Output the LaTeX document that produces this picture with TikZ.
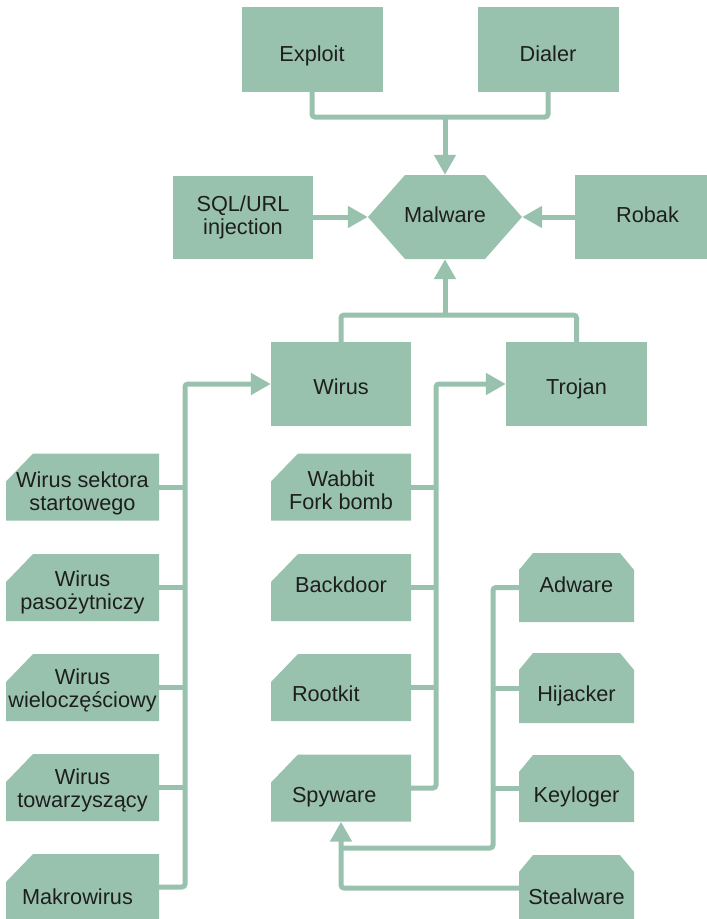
\documentclass[tikz,border=0pt]{standalone}
\usepackage{fontspec}
\setmainfont{Liberation Sans}
\usepackage{tikz}
\usetikzlibrary{arrows.meta}
\definecolor{sagegreen}{RGB}{153, 194, 174}
\definecolor{darktext}{RGB}{30, 30, 30}
\newlength{\textlift}
\tikzset{dropby/.initial=2, lines/.initial=1}

\begin{document}
\begin{tikzpicture}[x=1pt, y=-1pt,
    boxtext/.style = {text=darktext, align=center, inner sep=0pt, font=\fontsize{21.7}{23}\selectfont,
        execute at begin node={\pgfmathsetlength{\textlift}{2*\pgfkeysvalueof{/tikz/dropby}+25.6+23*(\pgfkeysvalueof{/tikz/lines}-1)}\rule[-5pt]{0pt}{\textlift}}},
    plain/.style = {boxtext, fill=sagegreen, minimum width=140pt, minimum height=84pt},
    hexbox/.style = {boxtext, minimum width=154pt, minimum height=84pt,
        path picture={\fill[sagegreen] (path picture bounding box.west)
            -- ([xshift=37pt]path picture bounding box.north west)
            -- ([xshift=-37pt]path picture bounding box.north east)
            -- (path picture bounding box.east)
            -- ([xshift=-37pt]path picture bounding box.south east)
            -- ([xshift=37pt]path picture bounding box.south west) -- cycle;}},
    cutleft/.style = {boxtext, minimum width=153pt, minimum height=67pt,
        path picture={\fill[sagegreen] ([yshift=-28pt]path picture bounding box.north west)
            -- ([xshift=27pt]path picture bounding box.north west)
            -- (path picture bounding box.north east)
            -- (path picture bounding box.south east)
            -- (path picture bounding box.south west) -- cycle;}},
    cutmid/.style = {cutleft, minimum width=140pt},
    cuttwo/.style = {boxtext, minimum width=115pt, minimum height=68pt,
        path picture={\fill[sagegreen] ([yshift=-17pt]path picture bounding box.north west)
            -- ([xshift=14pt]path picture bounding box.north west)
            -- ([xshift=-14pt]path picture bounding box.north east)
            -- ([yshift=-17pt]path picture bounding box.north east)
            -- (path picture bounding box.south east)
            -- (path picture bounding box.south west) -- cycle;}},
    link/.style = {draw=sagegreen, line width=5pt, rounded corners=3pt},
    arrowlink/.style = {link, -{Triangle[length=20pt, width=21pt]}}]
    \useasboundingbox (0,0) rectangle (707,919);

    % top row
    \node[plain, minimum width=141pt, minimum height=85pt, dropby=4] (exploit) at (312, 49.5) {Exploit};
    \node[plain, minimum width=141pt, minimum height=85pt, dropby=4.5] (dialer) at (548, 49.5) {Dialer};
    \node[plain, minimum height=83pt, lines=2, dropby=-2.3] (sql) at (243, 217) {SQL/URL\\injection};
    \node[hexbox, dropby=-3] (malware) at (445, 217) {Malware};
    \node[plain, minimum width=145pt, dropby=-5] (robak) at (647.5, 217) {Robak};
    \node[plain, dropby=2.7] (wirus) at (341, 384) {Wirus};
    \node[plain, minimum width=141pt, dropby=2.7] (trojan) at (576.5, 384) {Trojan};

    % wirus column
    \node[cutleft, lines=2, dropby=3.7] (sektor) at (82.5, 487) {Wirus sektora\\startowego};
    \node[cutleft, lines=2, dropby=2.7] (pasoz) at (82.5, 587.5) {Wirus\\pasożytniczy};
    \node[cutleft, lines=2, dropby=0.7] (wielo) at (82.5, 687.5) {Wirus\\wieloczęściowy};
    \node[cutleft, lines=2, dropby=0.7] (towarz) at (82.5, 787.5) {Wirus\\towarzyszący};
    \node[cutleft, minimum height=86pt, dropby=0, text width=121pt, align=left] (makro) at (82.5, 897) {Makrowirus};

    % trojan column
    \node[cutmid, lines=2, dropby=3] (wabbit) at (341, 487) {Wabbit\\Fork bomb};
    \node[cutmid, dropby=-3] (backdoor) at (341, 587.5) {Backdoor};
    \node[cutmid, dropby=6, text width=98pt, align=left] (rootkit) at (341, 687.5) {Rootkit};
    \node[cutmid, dropby=6.5, text width=98pt, align=left] (spyware) at (341, 788) {Spyware};

    % spyware column
    \node[cuttwo, minimum height=69pt, dropby=-3] (adware) at (576.5, 587.5) {Adware};
    \node[cuttwo, minimum height=70pt, dropby=6] (hijacker) at (576.5, 688) {Hijacker};
    \node[cuttwo, minimum height=67pt, dropby=6] (keyloger) at (576.5, 788.5) {Keyloger};
    \node[cuttwo, minimum height=86pt, dropby=-1.5] (stealware) at (576.5, 898) {Stealware};

    \coordinate (topjoin) at (445, 117);
    \coordinate (midjoin) at (445, 315);
    \coordinate (wbus) at (185, 384);
    \coordinate (tbus) at (436, 384);
    \coordinate (sbus) at (493, 848);

    % into malware
    \draw[link] (exploit.south) |- (topjoin) -| (dialer.south);
    \draw[arrowlink] (topjoin) -- (malware.north);
    \draw[arrowlink] (sql.east) -- (malware.west);
    \draw[arrowlink] (robak.west) -- (malware.east);
    \draw[link] (wirus.north) |- (midjoin) -| (trojan.north);
    \draw[arrowlink] (midjoin) -- (malware.south);

    % into wirus
    \draw[arrowlink] ([yshift=10pt]makro.east) -| (wbus) -- (wirus.west);
    \draw[link] (sektor.east) -- (sektor.east -| wbus);
    \draw[link] (pasoz.east) -- (pasoz.east -| wbus);
    \draw[link] (wielo.east) -- (wielo.east -| wbus);
    \draw[link] (towarz.east) -- (towarz.east -| wbus);

    % into trojan
    \draw[arrowlink] (spyware.east) -| (tbus) -- (trojan.west);
    \draw[link] (wabbit.east) -- (wabbit.east -| tbus);
    \draw[link] (backdoor.east) -- (backdoor.east -| tbus);
    \draw[link] (rootkit.east) -- (rootkit.east -| tbus);

    % into spyware
    \draw[link] (adware.west) -| (sbus) -- (sbus -| spyware.south);
    \draw[link] (hijacker.west) -- (hijacker.west -| sbus);
    \draw[link] (keyloger.west) -- (keyloger.west -| sbus);
    \draw[arrowlink] ([yshift=10pt]stealware.west) -| (spyware.south);
\end{tikzpicture}
\end{document}
